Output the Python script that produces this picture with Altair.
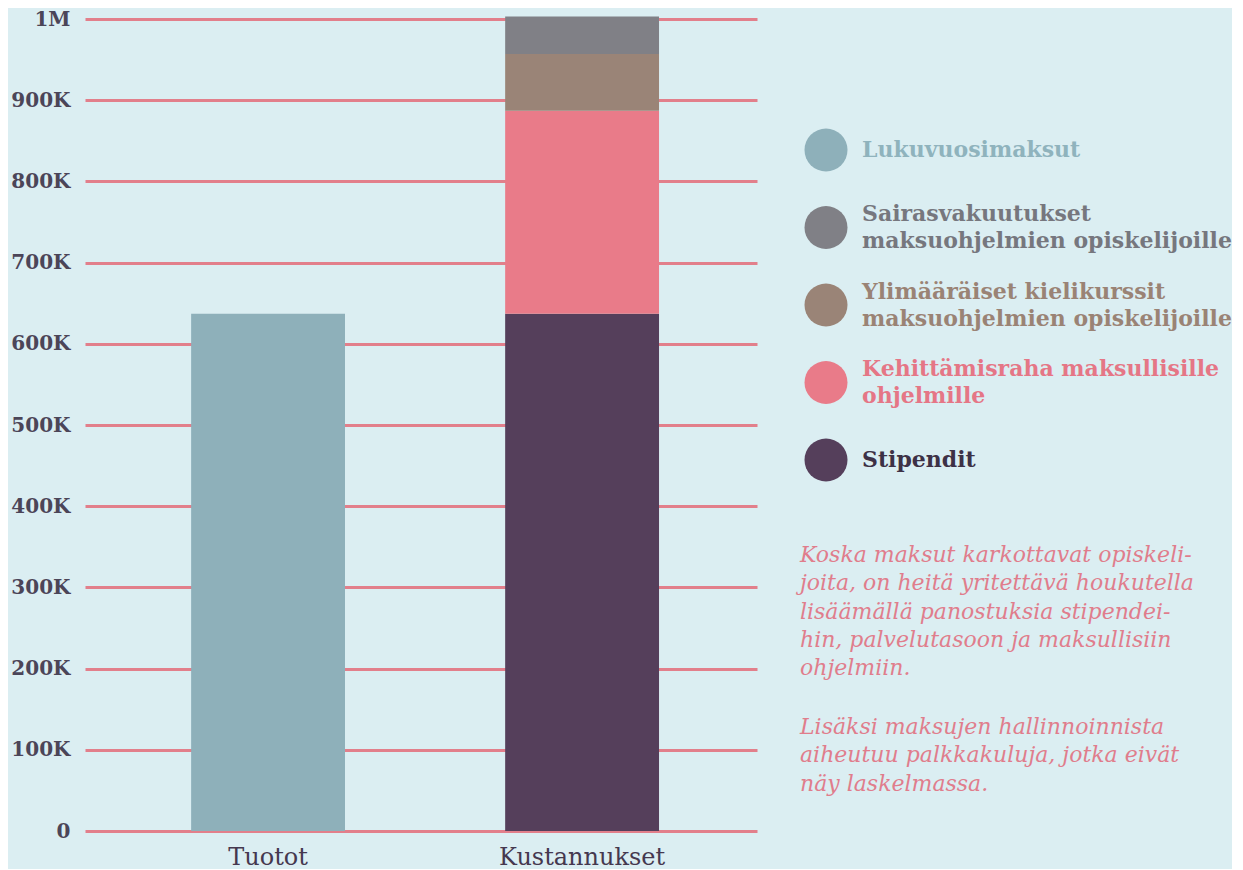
import altair as alt
import pandas as pd

# ---- data ----
groups = ["Tuotot", "Kustannukset", "Kustannukset", "Kustannukset", "Kustannukset"]
parts = [
    "Lukuvuosimaksut",
    "Stipendit",
    "Kehittämisraha maksullisille|ohjelmille",
    "Ylimääräiset kielikurssit|maksuohjelmien opiskelijoille",
    "Sairasvakuutukset|maksuohjelmien opiskelijoille",
]
values = [637000, 637000, 250000, 70000, 46000]
stack_rank = [0, 0, 1, 2, 3]

group_order = ["Tuotot", "Kustannukset"]
legend_order = [parts[0], parts[4], parts[3], parts[2], parts[1]]
bar_colors = ["#8eb0ba", "#808086", "#9a8477", "#e97b89", "#553f5b"]
label_colors = ["#8fb3bd", "#76777e", "#9a8375", "#e57686", "#3d3146"]

y_ticks = [0, 100000, 200000, 300000, 400000, 500000, 600000, 700000, 800000, 900000, 1000000]

note_par1 = [
    "Koska maksut karkottavat opiskeli-",
    "joita, on heitä yritettävä houkutella",
    "lisäämällä panostuksia stipendei-",
    "hin, palvelutasoon ja maksullisiin",
    "ohjelmiin.",
]
note_par2 = [
    "Lisäksi maksujen hallinnoinnista",
    "aiheutuu palkkakuluja, jotka eivät",
    "näy laskelmassa.",
]

BG = "#dbeef2"
GRID = "#e27f8b"
AXIS_TEXT = "#4b4558"
NOTE = "#e07d8c"
SERIF = "DejaVu Serif"

df = pd.DataFrame({"ryhma": groups, "osa": parts, "arvo": values, "jarjestys": stack_rank})

bars = alt.Chart(df).mark_bar(strokeWidth=0).encode(
    x=alt.X(
        "ryhma:N",
        sort=group_order,
        scale=alt.Scale(paddingInner=0.51, paddingOuter=0.325, align=0.52),
        axis=alt.Axis(
            title=None, labelAngle=0, domain=False, ticks=False,
            labelFont=SERIF, labelFontSize=24, labelColor="#45384f",
            labelPadding=14,
        ),
    ),
    y=alt.Y(
        "arvo:Q",
        stack="zero",
        scale=alt.Scale(domain=[0, 1000000], nice=False),
        axis=alt.Axis(
            title=None, values=y_ticks, domain=False, ticks=False,
            labelExpr="datum.value >= 1000000 ? '1M' : datum.value == 0 ? '0' : format(datum.value / 1000, 'd') + 'K'",
            grid=True, gridColor=GRID, gridWidth=3, gridOpacity=1,
            labelFont=SERIF, labelFontWeight="bold", labelFontSize=20,
            labelColor=AXIS_TEXT, labelPadding=15, minExtent=77, maxExtent=77,
        ),
    ),
    color=alt.Color("osa:N", scale=alt.Scale(domain=legend_order, range=bar_colors), legend=None),
    order=alt.Order("jarjestys:Q", sort="ascending"),
)

# ---- custom legend (circles + coloured, possibly two-line labels) ----
legend_df = pd.DataFrame({
    "osa": legend_order,
    "rivi": list(range(len(legend_order))),
    "symboli_vari": bar_colors,
    "teksti_vari": label_colors,
})

leg_base = alt.Chart(legend_df).transform_calculate(
    rivit="split(datum.osa, '|')",
    n="length(split(datum.osa, '|'))",
).encode(
    y=alt.Y(
        "rivi:O",
        scale=alt.Scale(type="point", domain=list(range(len(legend_order))), range=[131, 441], padding=0),
        axis=None,
    )
)

circles = leg_base.mark_circle(size=1849, opacity=1).encode(
    x=alt.value(741),
    fill=alt.Fill("symboli_vari:N", scale=None),
)

text_props = dict(align="left", baseline="middle", font=SERIF, fontSize=22,
                  fontWeight="bold", lineHeight=27)

labels1 = leg_base.transform_filter("datum.n == 1").mark_text(**text_props).encode(
    x=alt.value(777),
    text=alt.Text("rivit:N"),
    fill=alt.Fill("teksti_vari:N", scale=None),
)
labels2 = leg_base.transform_filter("datum.n == 2").mark_text(dy=-13.5, **text_props).encode(
    x=alt.value(777),
    text=alt.Text("rivit:N"),
    fill=alt.Fill("teksti_vari:N", scale=None),
)

note_props = dict(align="left", baseline="top", font=SERIF, fontStyle="italic",
                  fontSize=22, lineHeight=28.3, color=NOTE)
note1 = alt.Chart(pd.DataFrame({"n": [0]})).mark_text(text=note_par1, **note_props).encode(
    x=alt.value(715), y=alt.value(526)
)
note2 = alt.Chart(pd.DataFrame({"n": [0]})).mark_text(text=note_par2, **note_props).encode(
    x=alt.value(715), y=alt.value(698)
)

chart = alt.layer(bars, circles, labels1, labels2, note1, note2).resolve_scale(
    y="independent"
).properties(
    width=672, height=812,
    padding={"left": 0, "top": 1, "right": 0, "bottom": 0},
).configure(
    background=BG,
).configure_view(stroke=None)

chart.save("out.html", embed_options={"renderer": "svg", "actions": False})
